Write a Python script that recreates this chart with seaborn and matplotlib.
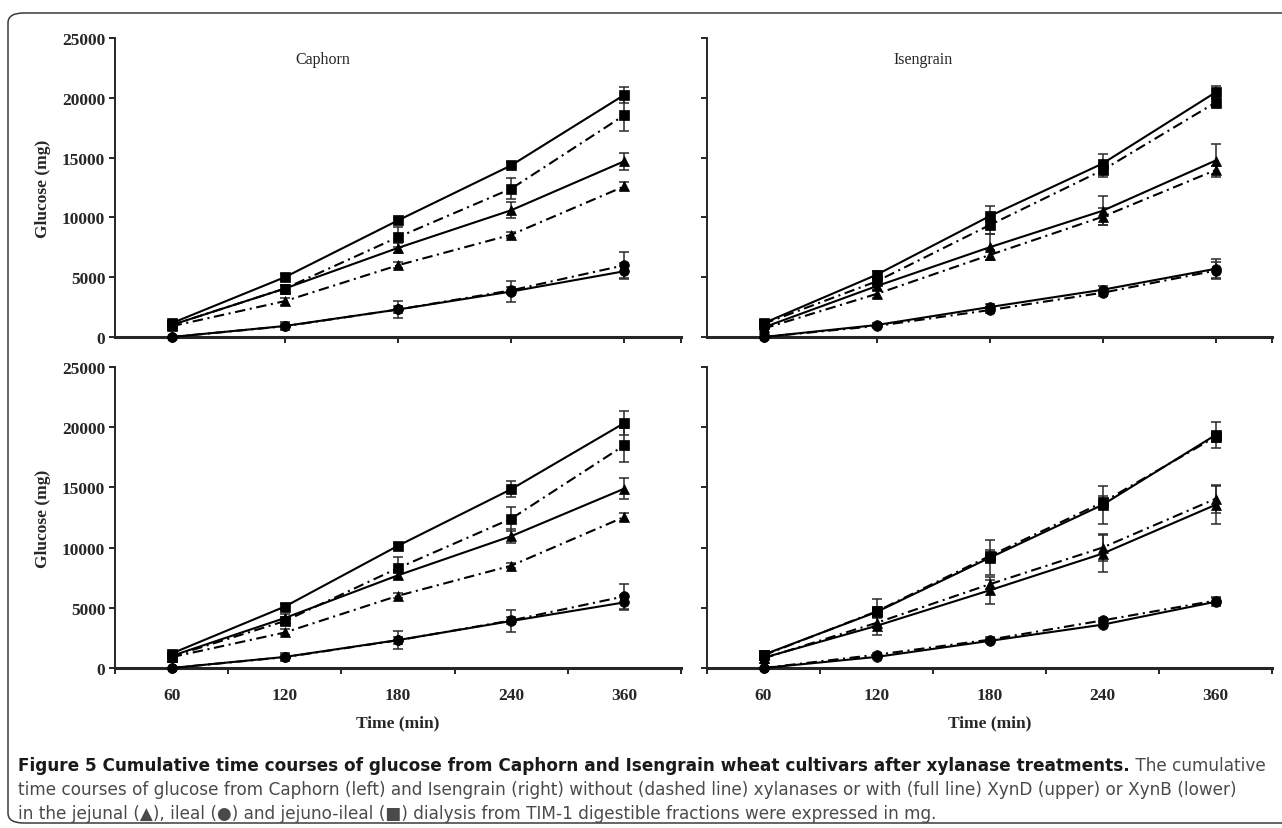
import numpy as np
import pandas as pd
import matplotlib
matplotlib.use('Agg')
import matplotlib.pyplot as plt
import seaborn as sns
from matplotlib.patches import FancyBboxPatch

# time points (min), shown as evenly spaced categories
times = ['60', '120', '180', '240', '360']

# Caphorn + XynD (upper left)
cd_jej_xyl = [1000, 4050, 7450, 10600, 14700]
cd_jej_xyl_err = [100, 300, 400, 650, 700]
cd_jej_ctl = [900, 3000, 6000, 8550, 12600]
cd_jej_ctl_err = [100, 300, 250, 250, 350]
cd_ile_xyl = [0, 920, 2300, 3800, 5500]
cd_ile_xyl_err = [0, 350, 750, 850, 650]
cd_ile_ctl = [0, 900, 2300, 3900, 6000]
cd_ile_ctl_err = [0, 200, 300, 300, 1100]
cd_ji_xyl = [1150, 5000, 9750, 14350, 20250]
cd_ji_xyl_err = [150, 300, 200, 250, 650]
cd_ji_ctl = [1000, 4050, 8350, 12400, 18550]
cd_ji_ctl_err = [150, 300, 850, 900, 1350]

# Isengrain + XynD (upper right)
id_jej_xyl = [800, 4250, 7500, 10550, 14750]
id_jej_xyl_err = [100, 300, 1100, 1200, 1400]
id_jej_ctl = [700, 3600, 6850, 10050, 13950]
id_jej_ctl_err = [100, 300, 400, 700, 350]
id_ile_xyl = [0, 1000, 2500, 3950, 5700]
id_ile_xyl_err = [0, 150, 250, 300, 800]
id_ile_ctl = [0, 920, 2250, 3700, 5550]
id_ile_ctl_err = [0, 150, 250, 250, 700]
id_ji_xyl = [1150, 5200, 10100, 14500, 20450]
id_ji_xyl_err = [150, 300, 850, 800, 500]
id_ji_ctl = [1100, 4650, 9350, 13950, 19600]
id_ji_ctl_err = [150, 300, 700, 600, 400]

# Caphorn + XynB (lower left)
cb_jej_xyl = [1000, 4150, 7700, 10950, 14900]
cb_jej_xyl_err = [100, 300, 300, 600, 900]
cb_jej_ctl = [900, 2950, 6000, 8500, 12550]
cb_jej_ctl_err = [100, 250, 200, 200, 350]
cb_ile_xyl = [0, 920, 2320, 3900, 5450]
cb_ile_xyl_err = [0, 300, 750, 900, 650]
cb_ile_ctl = [0, 900, 2300, 3950, 5950]
cb_ile_ctl_err = [0, 200, 300, 300, 1050]
cb_ji_xyl = [1200, 5100, 10150, 14850, 20350]
cb_ji_xyl_err = [150, 250, 200, 650, 1000]
cb_ji_ctl = [950, 3900, 8300, 12400, 18500]
cb_ji_ctl_err = [150, 300, 900, 1000, 1400]

# Isengrain + XynB (lower right)
ib_jej_xyl = [850, 3500, 6450, 9500, 13550]
ib_jej_xyl_err = [150, 800, 1100, 1550, 1600]
ib_jej_ctl = [800, 3750, 6950, 10000, 14050]
ib_jej_ctl_err = [100, 400, 400, 1100, 1150]
ib_ile_xyl = [0, 920, 2250, 3600, 5500]
ib_ile_xyl_err = [0, 150, 200, 200, 350]
ib_ile_ctl = [0, 1100, 2350, 3950, 5600]
ib_ile_ctl_err = [0, 150, 200, 200, 300]
ib_ji_xyl = [1100, 4650, 9150, 13550, 19350]
ib_ji_xyl_err = [150, 1100, 1450, 1600, 1100]
ib_ji_ctl = [1050, 4700, 9300, 13750, 19200]
ib_ji_ctl_err = [150, 400, 500, 500, 400]

panels = {
    'cd': [('jej', 'xyl', cd_jej_xyl, cd_jej_xyl_err), ('jej', 'ctl', cd_jej_ctl, cd_jej_ctl_err),
           ('ile', 'xyl', cd_ile_xyl, cd_ile_xyl_err), ('ile', 'ctl', cd_ile_ctl, cd_ile_ctl_err),
           ('ji', 'xyl', cd_ji_xyl, cd_ji_xyl_err), ('ji', 'ctl', cd_ji_ctl, cd_ji_ctl_err)],
    'id': [('jej', 'xyl', id_jej_xyl, id_jej_xyl_err), ('jej', 'ctl', id_jej_ctl, id_jej_ctl_err),
           ('ile', 'xyl', id_ile_xyl, id_ile_xyl_err), ('ile', 'ctl', id_ile_ctl, id_ile_ctl_err),
           ('ji', 'xyl', id_ji_xyl, id_ji_xyl_err), ('ji', 'ctl', id_ji_ctl, id_ji_ctl_err)],
    'cb': [('jej', 'xyl', cb_jej_xyl, cb_jej_xyl_err), ('jej', 'ctl', cb_jej_ctl, cb_jej_ctl_err),
           ('ile', 'xyl', cb_ile_xyl, cb_ile_xyl_err), ('ile', 'ctl', cb_ile_ctl, cb_ile_ctl_err),
           ('ji', 'xyl', cb_ji_xyl, cb_ji_xyl_err), ('ji', 'ctl', cb_ji_ctl, cb_ji_ctl_err)],
    'ib': [('jej', 'xyl', ib_jej_xyl, ib_jej_xyl_err), ('jej', 'ctl', ib_jej_ctl, ib_jej_ctl_err),
           ('ile', 'xyl', ib_ile_xyl, ib_ile_xyl_err), ('ile', 'ctl', ib_ile_ctl, ib_ile_ctl_err),
           ('ji', 'xyl', ib_ji_xyl, ib_ji_xyl_err), ('ji', 'ctl', ib_ji_ctl, ib_ji_ctl_err)],
}

rows = []
for panel, series in panels.items():
    for frac, treat, vals, errs in series:
        for i, t in enumerate(times):
            rows.append(dict(panel=panel, fraction=frac, treatment=treat,
                             time=t, pos=i, glucose=vals[i], err=errs[i]))
df = pd.DataFrame(rows)

markers = {'jej': '^', 'ile': 'o', 'ji': 's'}
msizes = {'jej': 7.5, 'ile': 7, 'ji': 7}
lstyles = {'xyl': '-', 'ctl': (0, (5, 2.2, 1, 2.2))}

sns.set_style("white")
plt.rcParams['font.family'] = ['Liberation Serif', 'DejaVu Serif']

W, H = 1282, 829
fig = plt.figure(figsize=(W / 100, H / 100), dpi=100)


def px_axes(x0, x1, ytop, ybot):
    return fig.add_axes([x0 / W, 1 - ybot / H, (x1 - x0) / W, (ybot - ytop) / H])


axes = {
    'cd': px_axes(115, 681, 39, 338),
    'id': px_axes(707, 1272, 39, 338),
    'cb': px_axes(115, 681, 368, 669),
    'ib': px_axes(707, 1272, 368, 669),
}

for key, ax in axes.items():
    sub = df[df.panel == key]
    for (frac, treat), s in sub.groupby(['fraction', 'treatment'], sort=False):
        sns.lineplot(data=s, x='pos', y='glucose', ax=ax, color='black', lw=1.5,
                     marker=markers[frac], markersize=msizes[frac],
                     markeredgecolor='black', markeredgewidth=0.5,
                     linestyle=lstyles[treat], errorbar=None, sort=False,
                     clip_on=False, zorder=3)
        m = s[s.err > 0]
        ax.errorbar(m.pos, m.glucose, yerr=m.err, fmt='none', ecolor='#2a2a2a',
                    elinewidth=1.1, capsize=3.5, capthick=1.1, clip_on=False, zorder=2)

    ax.set_xlim(-0.5, 4.5)
    ax.set_ylim(0, 25000)
    ax.set_yticks(range(0, 25001, 5000))
    sns.despine(ax=ax)
    ax.spines['left'].set_linewidth(1.4)
    ax.spines['bottom'].set_linewidth(2.2)
    ax.tick_params(axis='y', direction='out', length=4, width=1.4, pad=3,
                   labelsize=12.5, left=True)
    for lab in ax.get_yticklabels():
        lab.set_fontweight('bold')
    if key in ('id', 'ib'):
        ax.set_yticklabels([])
    ax.set_xlabel('')
    ax.set_ylabel('')

    if key in ('cd', 'id'):
        ax.set_xticks([0, 1, 2, 3, 4, 4.5])
        ax.set_xticklabels([])
        ax.tick_params(axis='x', direction='out', length=4, width=1.4, bottom=True)
    else:
        ax.set_xticks(range(5))
        ax.set_xticklabels(times, fontsize=12.5, fontweight='bold')
        ax.set_xticks(np.arange(-0.5, 5, 1), minor=True)
        ax.tick_params(axis='x', which='major', length=0, pad=14)
        ax.tick_params(axis='x', which='minor', direction='out', length=4, width=1.4, bottom=True)
        ax.set_xlabel('Time (min)', fontsize=12.5, fontweight='bold')
        ax.xaxis.set_label_coords(0.5, -0.155)
        ax.xaxis.label.set_va('top')
    if key in ('cd', 'cb'):
        ax.set_ylabel('Glucose (mg)', fontsize=12.5, fontweight='bold')
        ax.yaxis.set_label_coords(-0.113, 0.5)

axes['cd'].text(0.3675, 0.93, 'Caphorn', transform=axes['cd'].transAxes,
                ha='center', va='center', fontsize=11.5)
axes['id'].text(0.382, 0.93, 'Isengrain', transform=axes['id'].transAxes,
                ha='center', va='center', fontsize=11.5)

# rounded frame around the figure + caption
fig.patches.append(FancyBboxPatch((8 / W, 1 - 824 / H), 1.1, (824 - 14) / H,
                                  boxstyle='round,pad=0,rounding_size=0.012',
                                  transform=fig.transFigure, fill=False,
                                  ec='#3a3a3a', lw=1.1))

cap_font = ['Liberation Sans Narrow', 'DejaVu Sans Condensed', 'DejaVu Sans']
cap_bold = ('Figure 5 Cumulative time courses of glucose from Caphorn and Isengrain '
            'wheat cultivars after xylanase treatments.')
cap_rest = [' The cumulative',
            'time courses of glucose from Caphorn (left) and Isengrain (right) without '
            '(dashed line) xylanases or with (full line) XynD (upper) or XynB (lower)',
            'in the jejunal (\u25b2), ileal (\u25cf) and jejuno-ileal (\u25a0) dialysis '
            'from TIM-1 digestible fractions were expressed in mg.']

renderer = fig.canvas.get_renderer()
x0 = 18 / W
target = 1262 - 18


def text_width(s, **kw):
    t = fig.text(x0, 0.5, s, family=cap_font, fontsize=10, **kw)
    w = t.get_window_extent(renderer).width
    t.remove()
    return w


w_line1 = text_width(cap_bold, fontweight='bold') + text_width(cap_rest[0])
w_line2 = text_width(cap_rest[1])
cap_size = 10 * target / max(w_line1, w_line2)

y1, y2, y3 = 1 - 766 / H, 1 - 790 / H, 1 - 814 / H
tb = fig.text(x0, y1, cap_bold, family=cap_font, fontsize=cap_size,
              fontweight='bold', color='#1a1a1a', va='center')
bb = tb.get_window_extent(renderer)
fig.text(bb.x1 / W, y1, cap_rest[0], family=cap_font, fontsize=cap_size,
         color='#4a4a4a', va='center')
fig.text(x0, y2, cap_rest[1], family=cap_font, fontsize=cap_size,
         color='#4a4a4a', va='center')
fig.text(x0, y3, cap_rest[2], family=cap_font, fontsize=cap_size,
         color='#4a4a4a', va='center')

fig.savefig('out.png', dpi=100)
